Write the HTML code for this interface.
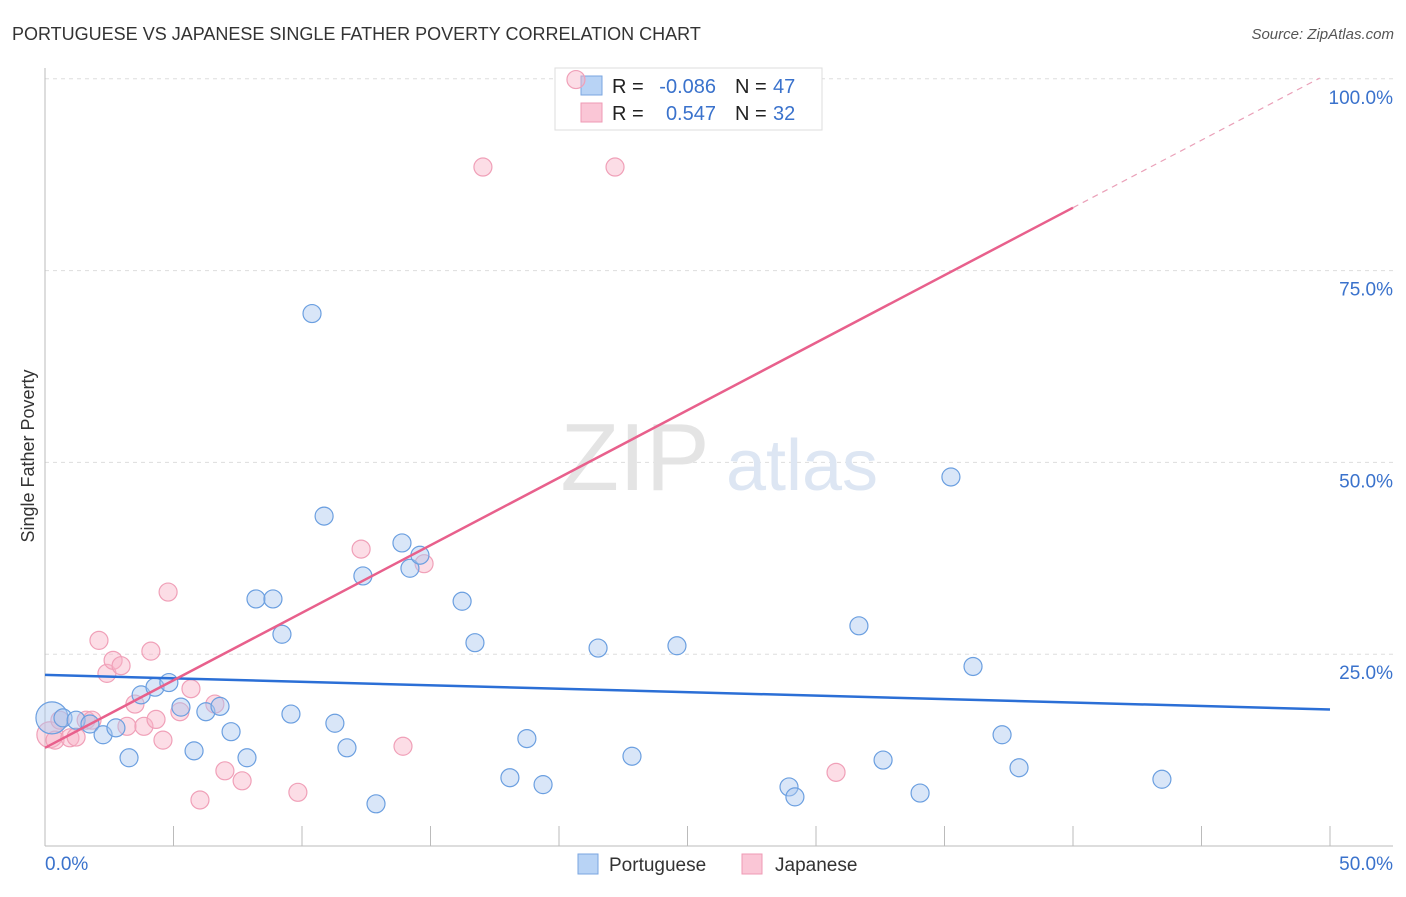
<!DOCTYPE html>
<html><head><meta charset="utf-8">
<style>
body{margin:0;background:#fff;font-family:"Liberation Sans",sans-serif;}
svg text{font-family:"Liberation Sans",sans-serif;}
</style></head>
<body>
<svg id="chart" width="1406" height="892" xmlns="http://www.w3.org/2000/svg">
<text x="12" y="40" font-size="18" fill="#333">PORTUGUESE VS JAPANESE SINGLE FATHER POVERTY CORRELATION CHART</text>
<text x="1394" y="39" font-size="15" fill="#555" text-anchor="end" font-style="italic">Source: ZipAtlas.com</text>
<g id="grid"></g>
<g>
<text x="635" y="490" font-size="96" fill="#e4e4e4" text-anchor="middle" font-family="Liberation Serif">ZIP</text>
<text x="802" y="490" font-size="72" fill="#dde6f3" text-anchor="middle">atlas</text>
</g>
<g>
<rect x="555" y="68" width="267" height="62" fill="#fff" stroke="#ddd"/>
<rect x="581" y="76" width="21" height="19" fill="#b8d3f5" stroke="#7aa6e0"/>
<rect x="581" y="103" width="21" height="19" fill="#fac6d6" stroke="#ef9ab4"/>
<text x="612" y="93" font-size="20" fill="#222">R =</text>
<text x="716" y="93" font-size="20" fill="#3a72cc" text-anchor="end">-0.086</text>
<text x="735" y="93" font-size="20" fill="#222">N =</text>
<text x="773" y="93" font-size="20" fill="#3a72cc">47</text>
<text x="612" y="120" font-size="20" fill="#222">R =</text>
<text x="716" y="120" font-size="20" fill="#3a72cc" text-anchor="end">0.547</text>
<text x="735" y="120" font-size="20" fill="#222">N =</text>
<text x="773" y="120" font-size="20" fill="#3a72cc">32</text>
</g>
<g id="axes"></g>
<g id="pts"></g>
<g id="lines"></g>
<text transform="translate(34,456) rotate(-90)" font-size="18" fill="#333" text-anchor="middle">Single Father Poverty</text>
<g>
<rect x="578" y="854" width="20" height="20" fill="#b8d3f5" stroke="#7aa6e0"/>
<text x="609" y="871" font-size="19" fill="#333">Portuguese</text>
<rect x="742" y="854" width="20" height="20" fill="#fac6d6" stroke="#ef9ab4"/>
<text x="775" y="871" font-size="19" fill="#333">Japanese</text>
</g>
</svg>
<script>
const blueX=[0.27,0.70,1.21,1.75,2.26,2.76,3.27,3.74,4.28,4.82,5.29,5.80,6.26,6.81,7.24,7.86,8.21,8.87,9.22,9.57,10.39,10.86,11.28,11.75,12.37,12.88,13.89,14.20,14.59,16.23,16.73,18.09,18.75,19.38,21.52,22.84,24.59,28.95,29.18,31.67,32.61,34.05,35.25,36.11,37.24,37.90,43.46];
const blueY=[16.7,16.7,16.4,15.9,14.5,15.4,11.5,19.7,20.7,21.3,18.1,12.4,17.5,18.2,14.9,11.5,32.2,32.2,27.6,17.2,69.4,43.0,16.0,12.8,35.2,5.5,39.5,36.2,37.9,31.9,26.5,8.9,14.0,8.0,25.8,11.7,26.1,7.7,6.4,28.7,11.2,6.9,48.1,23.4,14.5,10.2,8.7];
const pinkX=[0.19,0.39,0.58,0.97,1.21,1.60,1.83,2.10,2.41,2.65,2.96,3.19,3.50,3.85,4.12,4.32,4.59,4.79,5.25,5.68,6.03,6.61,7.00,7.67,9.84,12.30,13.93,14.75,17.04,20.66,22.18,30.78];
const pinkY=[14.5,13.8,16.4,14.1,14.2,16.4,16.4,26.8,22.5,24.2,23.5,15.6,18.5,15.6,25.4,16.5,13.8,33.1,17.5,20.5,6.0,18.5,9.8,8.5,7.0,38.7,13.0,36.8,88.5,99.9,88.5,9.6];
const blueTrend=[22.3,17.8];   // y at x=0 and x=50
const pinkTrend=[12.8,1.76];   // intercept, slope per %
const yTicks=[25,50,75,100];
const yTickLabels=["25.0%","50.0%","75.0%","100.0%"];
const xTicks=[0,5,10,15,20,25,30,35,40,45,50];

const NS="http://www.w3.org/2000/svg";
const sx=v=>45+v*25.7, sy=v=>846-v*7.672;
function mk(tag,attrs,parent){const e=document.createElementNS(NS,tag);for(const k in attrs)e.setAttribute(k,attrs[k]);parent.appendChild(e);return e;}
const grid=document.getElementById('grid'),axes=document.getElementById('axes'),pts=document.getElementById('pts'),lines=document.getElementById('lines');
yTicks.forEach((t,i)=>{
 const l=mk('line',{x1:45,x2:1393,y1:sy(t),y2:sy(t),stroke:'#ddd','stroke-dasharray':'4,4'},grid);
 
 
 const tx=mk('text',{x:1393,y:sy(t)+25,'font-size':19,fill:'#3a72cc','text-anchor':'end'},axes);
 tx.textContent=yTickLabels[i];
 
 
});
mk('line',{x1:45,x2:45,y1:68,y2:846,stroke:'#bbb'},axes);
mk('line',{x1:45,x2:1393,y1:846,y2:846,stroke:'#bbb'},axes);
xTicks.forEach(t=>{const l=mk('line',{x1:sx(t),x2:sx(t),y1:826,y2:846,stroke:'#bbb'},axes);
 
 });
let a=mk('text',{x:45,y:870,'font-size':19,fill:'#3a72cc'},axes);a.textContent='0.0%';


a=mk('text',{x:1393,y:870,'font-size':19,fill:'#3a72cc','text-anchor':'end'},axes);a.textContent='50.0%';



pinkX.forEach((x,i)=>{const c=mk('circle',{cx:sx(x),cy:sy(pinkY[i]),r:i==0?13:9,fill:'rgba(248,180,200,0.45)',stroke:'#f0a0b8','stroke-width':1.2},pts);
 
 });
blueX.forEach((x,i)=>{const c=mk('circle',{cx:sx(x),cy:sy(blueY[i]),r:i==0?16:9,fill:'rgba(170,200,240,0.45)',stroke:'#6b9fe0','stroke-width':1.2},pts);
 
 });

let l=mk('line',{x1:sx(0),y1:sy(blueTrend[0]),x2:sx(50),y2:sy(blueTrend[1]),stroke:'#2b6fd6','stroke-width':2.5},lines);


const py=x=>pinkTrend[0]+pinkTrend[1]*x;
l=mk('line',{x1:sx(0),y1:sy(py(0)),x2:sx(40),y2:sy(py(40)),stroke:'#e8608c','stroke-width':2.5},lines);


l=mk('line',{x1:sx(40),y1:sy(py(40)),x2:sx(49.6),y2:sy(py(49.6)),stroke:'#eaa0b8','stroke-width':1.2,'stroke-dasharray':'6,5'},lines);


</script>
</body></html>
